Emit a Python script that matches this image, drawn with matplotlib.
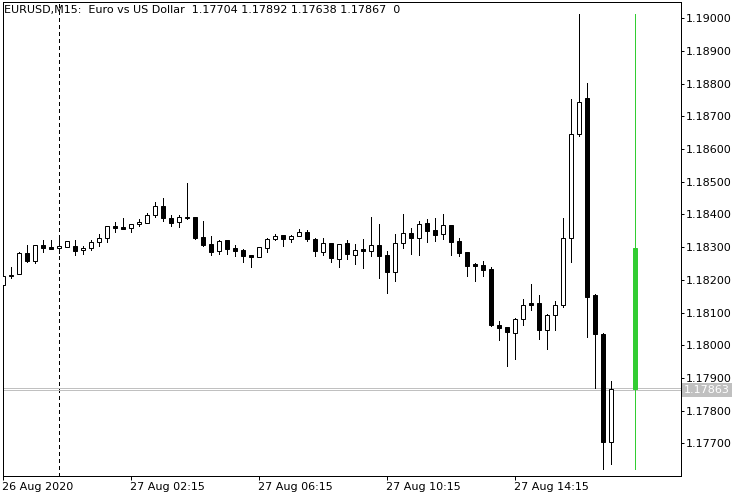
import numpy as np
import matplotlib
matplotlib.use("Agg")
import matplotlib.pyplot as plt

# ── EURUSD M15 candles (27 Aug 2020) ──────────────────────────────────────────
opens = [1.18184, 1.18212, 1.18217, 1.18281, 1.18259, 1.18306, 1.18300, 1.18297,
         1.18301, 1.18303, 1.18291, 1.18297, 1.18315, 1.18327, 1.18364, 1.18361,
         1.18358, 1.18370, 1.18375, 1.18398, 1.18425, 1.18389, 1.18376, 1.18390,
         1.18391, 1.18330, 1.18309, 1.18287, 1.18321, 1.18298, 1.18291, 1.18275,
         1.18269, 1.18297, 1.18324, 1.18336, 1.18326, 1.18333, 1.18346, 1.18324,
         1.18284, 1.18312, 1.18263, 1.18312, 1.18275, 1.18294, 1.18287, 1.18306,
         1.18276, 1.18225, 1.18312, 1.18343, 1.18327, 1.18373, 1.18353, 1.18339,
         1.18367, 1.18319, 1.18285, 1.18249, 1.18246, 1.18233, 1.18062, 1.18056,
         1.18037, 1.18080, 1.18129, 1.18129, 1.18048, 1.18093, 1.18123, 1.18327,
         1.18647, 1.18755, 1.18154, 1.18035, 1.17704]
highs = [1.18213, 1.18239, 1.18285, 1.18306, 1.18306, 1.18321, 1.18321, 1.18337,
         1.18319, 1.18321, 1.18305, 1.18322, 1.18339, 1.18364, 1.18378, 1.18388,
         1.18370, 1.18385, 1.18404, 1.18438, 1.18450, 1.18398, 1.18398, 1.18496,
         1.18391, 1.18379, 1.18333, 1.18321, 1.18323, 1.18306, 1.18294, 1.18275,
         1.18300, 1.18329, 1.18340, 1.18336, 1.18337, 1.18356, 1.18353, 1.18327,
         1.18327, 1.18312, 1.18309, 1.18321, 1.18309, 1.18325, 1.18392, 1.18371,
         1.18288, 1.18340, 1.18402, 1.18358, 1.18380, 1.18386, 1.18389, 1.18402,
         1.18367, 1.18328, 1.18285, 1.18251, 1.18258, 1.18239, 1.18074, 1.18056,
         1.18084, 1.18142, 1.18187, 1.18154, 1.18097, 1.18136, 1.18389, 1.18753,
         1.19013, 1.18802, 1.18158, 1.18037, 1.17892]
lows = [1.18184, 1.18207, 1.18217, 1.18255, 1.18253, 1.18286, 1.18294, 1.18281,
        1.18301, 1.18277, 1.18278, 1.18291, 1.18303, 1.18315, 1.18347, 1.18357,
        1.18346, 1.18366, 1.18373, 1.18393, 1.18381, 1.18366, 1.18361, 1.18385,
        1.18324, 1.18303, 1.18276, 1.18280, 1.18280, 1.18274, 1.18256, 1.18239,
        1.18269, 1.18286, 1.18321, 1.18305, 1.18317, 1.18333, 1.18320, 1.18274,
        1.18275, 1.18254, 1.18240, 1.18263, 1.18248, 1.18237, 1.18272, 1.18207,
        1.18161, 1.18195, 1.18298, 1.18280, 1.18276, 1.18317, 1.18320, 1.18324,
        1.18276, 1.18274, 1.18213, 1.18197, 1.18213, 1.18060, 1.18016, 1.17938,
        1.17959, 1.18062, 1.18109, 1.18020, 1.17990, 1.18048, 1.18118, 1.18256,
        1.18641, 1.18026, 1.17870, 1.17620, 1.17638]
closes = [1.18213, 1.18214, 1.18283, 1.18258, 1.18306, 1.18298, 1.18295, 1.18303,
          1.18319, 1.18289, 1.18297, 1.18315, 1.18327, 1.18364, 1.18360, 1.18357,
          1.18370, 1.18376, 1.18398, 1.18425, 1.18388, 1.18375, 1.18391, 1.18392,
          1.18329, 1.18308, 1.18286, 1.18318, 1.18295, 1.18289, 1.18274, 1.18269,
          1.18300, 1.18324, 1.18334, 1.18326, 1.18333, 1.18346, 1.18324, 1.18287,
          1.18312, 1.18266, 1.18309, 1.18278, 1.18291, 1.18287, 1.18306, 1.18272,
          1.18225, 1.18312, 1.18343, 1.18329, 1.18370, 1.18350, 1.18338, 1.18367,
          1.18317, 1.18283, 1.18243, 1.18243, 1.18231, 1.18062, 1.18054, 1.18039,
          1.18080, 1.18123, 1.18123, 1.18048, 1.18093, 1.18123, 1.18327, 1.18645,
          1.18743, 1.18149, 1.18035, 1.17705, 1.17867]

# higher-timeframe bar drawn in green, three slots after the last candle
htf_pos = 79
htf_ohlc = (1.18297, 1.19013, 1.17620, 1.17867)

bid_price = 1.17863
ask_price = 1.17869
day_sep = 7  # 27 Aug 00:00

xtick_pos = [0, 16, 32, 48, 64]
xtick_labels = ["26 Aug 2020", "27 Aug 02:15", "27 Aug 06:15",
                "27 Aug 10:15", "27 Aug 14:15"]
yticks = np.round(np.arange(1.177, 1.19001, 0.001), 3)

title = "EURUSD,M15:  Euro vs US Dollar  1.17704 1.17892 1.17638 1.17867  0"

PX = 0.72  # one pixel in points at dpi 100
GREEN = "#32cd32"

fig = plt.figure(figsize=(7.5, 5), dpi=100, facecolor="white")
ax = fig.add_axes([2.5 / 750, 24 / 500, 678 / 750, 474 / 500])
ax.set_facecolor("white")

x = np.arange(len(opens))
o = np.array(opens)
h = np.array(highs)
l = np.array(lows)
c = np.array(closes)
up = c >= o

# wicks behind bodies
for xi, lo, hi in zip(x, l, h):
    ax.plot([xi, xi], [lo, hi], color="black", linewidth=PX,
            antialiased=False, zorder=2)
ax.bar(x[up], c[up] - o[up], bottom=o[up], width=0.5, color="white",
       edgecolor="black", linewidth=PX, zorder=3)
ax.bar(x[~up], o[~up] - c[~up], bottom=c[~up], width=0.5, color="black",
       edgecolor="black", linewidth=PX, zorder=3)

# green bar
g_o, g_h, g_l, g_c = htf_ohlc
ax.plot([htf_pos, htf_pos], [g_l, g_h], color=GREEN, linewidth=PX,
        antialiased=False, zorder=2)
ax.bar(htf_pos, abs(g_o - g_c), bottom=min(g_o, g_c), width=0.5,
       color=GREEN, edgecolor=GREEN, linewidth=PX, zorder=3)

# period separator
ax.axvline(day_sep, color="black", linewidth=PX, linestyle=(0, (3, 3)),
           zorder=1, antialiased=False)

# bid / ask lines
for p in (bid_price, ask_price):
    ax.axhline(p, color="#c0c0c0", linewidth=PX, zorder=1, antialiased=False)

ax.set_xlim(0, 84.75)
ax.set_ylim(1.17600, 1.19050)

ax.set_xticks(xtick_pos)
ax.set_xticklabels(xtick_labels, ha="left", fontsize=8)
ax.yaxis.tick_right()
ax.set_yticks(yticks)
ax.set_yticklabels([f"{v:.5f}" for v in yticks], fontsize=8)
ax.tick_params(axis="x", direction="out", length=3, width=PX, pad=1.5)
ax.tick_params(axis="y", direction="out", length=2.5, width=PX, pad=1.2)
for s in ax.spines.values():
    s.set_linewidth(PX)
    s.set_color("black")

# current price label on the scale
ax.text(1.0 + 3.5 / 678, bid_price, f"{bid_price:.5f}", transform=ax.get_yaxis_transform(),
        ha="left", va="center", fontsize=8, color="white", zorder=10, clip_on=False,
        bbox=dict(facecolor="#c0c0c0", edgecolor="none", boxstyle="square,pad=0.15"))

ax.text(2 / 678, 1 - 8 / 474, title, transform=ax.transAxes, ha="left",
        va="center", fontsize=8, color="black", zorder=10)

fig.savefig("out.png", dpi=100, facecolor="white")
